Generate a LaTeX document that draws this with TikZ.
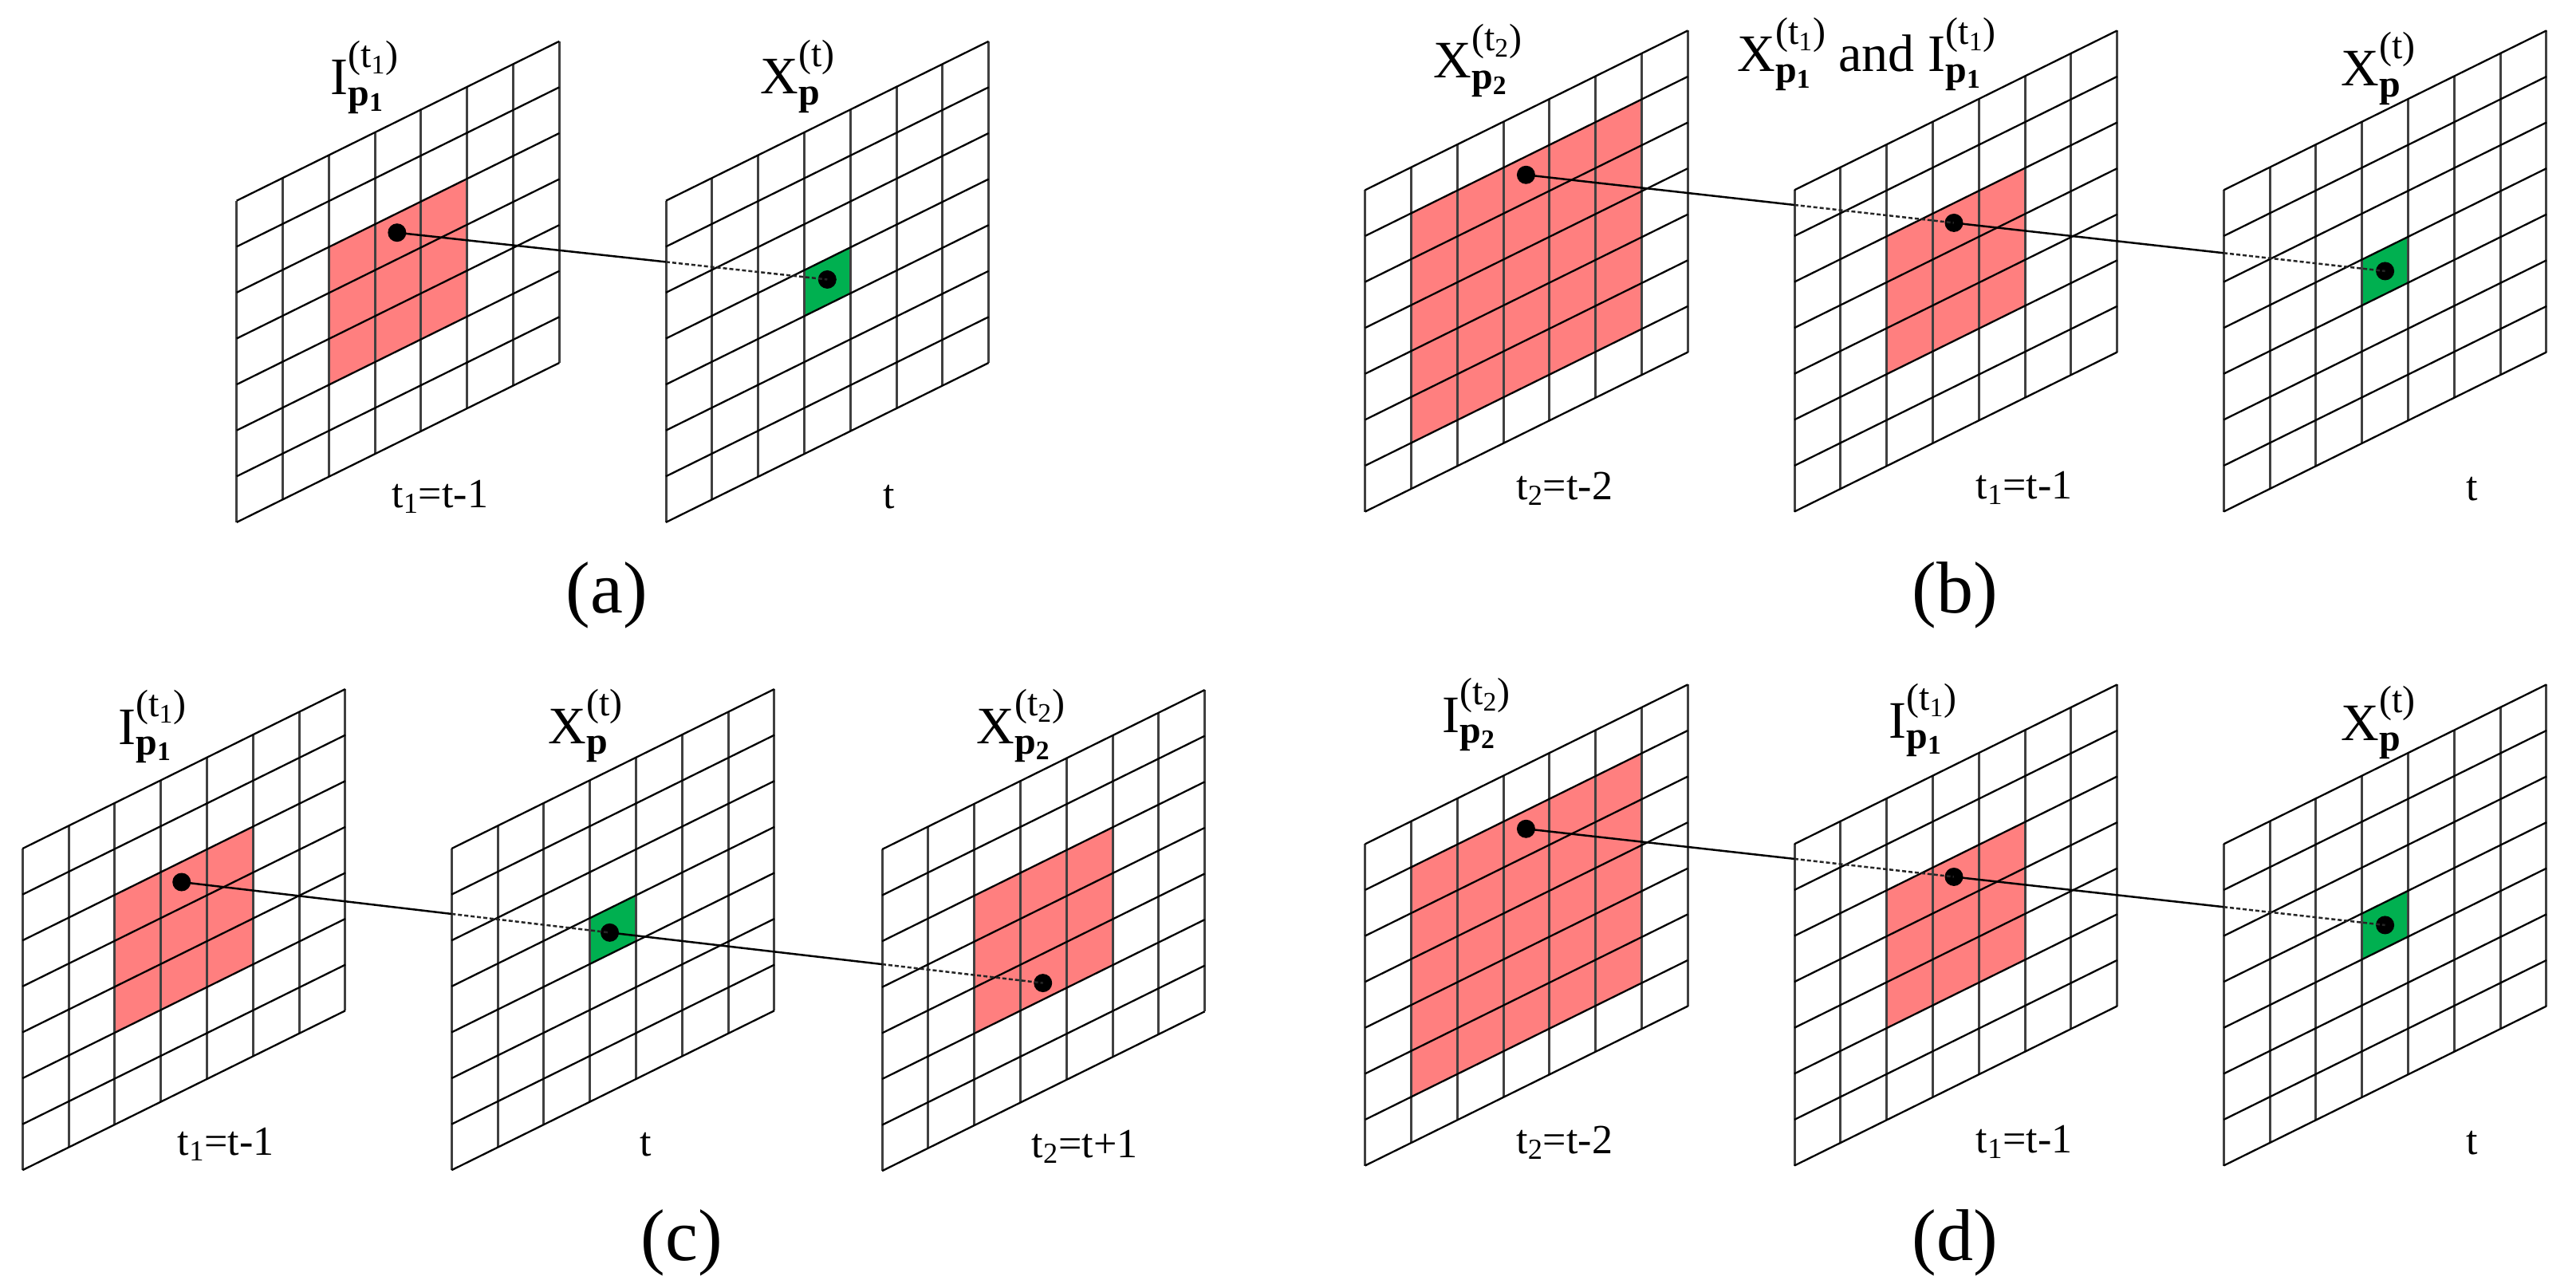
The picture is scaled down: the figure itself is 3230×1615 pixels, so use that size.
\documentclass[tikz,border=0pt]{standalone}
\usepackage{fontspec}
\setmainfont{Liberation Serif}
\definecolor{patchred}{RGB}{255,127,127}
\definecolor{cellgreen}{RGB}{0,176,80}
\tikzset{
  gridv/.style={draw=black!75, line width=1.5pt},
  gridh/.style={draw=black, line width=1.15pt},
  dotnode/.style={circle, fill=black, inner sep=0pt, minimum size=11.5pt},
  link/.style={line width=1.25pt, draw=black},
  hidden/.style={line width=1.25pt, draw=black!85, dash pattern=on 2.5pt off 1.5pt},
  toplab/.style={anchor=base west, inner sep=0pt, font=\fontsize{33}{33}\selectfont},
  botlab/.style={anchor=center, inner sep=0pt, font=\fontsize{26}{26}\selectfont},
  caplab/.style={anchor=center, inner sep=0pt, font=\fontsize{46}{46}\selectfont},
  gridsys/.style={x={(28.9pt,14.28pt)}, y={(0pt,-28.8pt)}}
}
\newcommand{\gridlines}{%
  \foreach \k in {0,...,7}{\draw[gridv] (\k,0) -- (\k,7);}%
  \foreach \k in {0,...,7}{\draw[gridh] (0,\k) -- (7,\k);}}
\newcommand{\redpatch}{\fill[patchred] (2,2) -- (5,2) -- (5,5) -- (2,5) -- cycle;}
\newcommand{\bigpatch}{\fill[patchred] (1,1) -- (6,1) -- (6,6) -- (1,6) -- cycle;}
\newcommand{\greencell}{\fill[cellgreen] (3,3) -- (4,3) -- (4,4) -- (3,4) -- cycle;}
\newcommand{\supsub}[3]{#1\rlap{\raisebox{-0.2em}{\fontsize{24}{24}\selectfont #2}}\raisebox{0.52em}{\fontsize{24}{24}\selectfont #3}}
\newcommand{\pp}[1]{\textbf{p}\textsubscript{\textbf{#1}}}
\begin{document}
\begin{tikzpicture}[x=0.5pt,y=-0.5pt]
\fill[white] (0,0) rectangle (3230,1615);
\useasboundingbox (0,0) rectangle (3230,1615);

% ---------------- panel (a) ----------------
\begin{scope}[shift={(296.7,251.7)}, gridsys]
  \redpatch \gridlines
  \coordinate (A1tl) at (0,0); \coordinate (A1bl) at (0,7);
  \node[dotnode] (A1dot) at (3.48,2.42) {};
\end{scope}
\begin{scope}[shift={(835,251.7)}, gridsys]
  \greencell \gridlines
  \coordinate (A2tl) at (0,0); \coordinate (A2bl) at (0,7);
  \node[dotnode] (A2dot) at (3.5,3.45) {};
\end{scope}
\coordinate (A12) at (intersection of A1dot.center--A2dot.center and A2tl--A2bl);
\draw[link] (A1dot.center) -- (A12);
\draw[hidden] (A12) -- (A2dot.center);
\node[toplab] (labA1) at (414,119) {\supsub{I}{\pp{1}}{(t\textsubscript{1})}};
\node[toplab] (labA2) at (953,118) {\supsub{X}{\textbf{p}}{(t)}};
\node[botlab] (tA1) at (551.7,623) {t\textsubscript{1}=t-1};
\node[botlab] (tA2) at (1115,623) {t};
\node[caplab] (capa) at (761,746) {(a)};

% ---------------- panel (b) ----------------
\begin{scope}[shift={(1711.7,238.3)}, gridsys]
  \bigpatch \gridlines
  \coordinate (B1tl) at (0,0); \coordinate (B1bl) at (0,7);
  \node[dotnode] (B1dot) at (3.49,1.4) {};
\end{scope}
\begin{scope}[shift={(2250,238.3)}, gridsys]
  \redpatch \gridlines
  \coordinate (B2tl) at (0,0); \coordinate (B2bl) at (0,7);
  \node[dotnode] (B2dot) at (3.46,2.43) {};
\end{scope}
\begin{scope}[shift={(2788.3,238.3)}, gridsys]
  \greencell \gridlines
  \coordinate (B3tl) at (0,0); \coordinate (B3bl) at (0,7);
  \node[dotnode] (B3dot) at (3.5,3.5) {};
\end{scope}
\coordinate (B12) at (intersection of B1dot.center--B2dot.center and B2tl--B2bl);
\coordinate (B23) at (intersection of B2dot.center--B3dot.center and B3tl--B3bl);
\draw[link] (B1dot.center) -- (B12);
\draw[hidden] (B12) -- (B2dot.center);
\draw[link] (B2dot.center) -- (B23);
\draw[hidden] (B23) -- (B3dot.center);
\node[toplab] (labB1) at (1797,98) {\supsub{X}{\pp{2}}{(t\textsubscript{2})}};
\node[toplab] (labB2) at (2178,90) {\supsub{X}{\pp{1}}{(t\textsubscript{1})} and \supsub{I}{\pp{1}}{(t\textsubscript{1})}};
\node[toplab] (labB3) at (2935,108) {\supsub{X}{\textbf{p}}{(t)}};
\node[botlab] (tB1) at (1961.7,613) {t\textsubscript{2}=t-2};
\node[botlab] (tB2) at (2538.3,612) {t\textsubscript{1}=t-1};
\node[botlab] (tB3) at (3100,613) {t};
\node[caplab] (capb) at (2451,746) {(b)};

% ---------------- panel (c) ----------------
\begin{scope}[shift={(28.3,1064)}, gridsys]
  \redpatch \gridlines
  \coordinate (C1tl) at (0,0); \coordinate (C1bl) at (0,7);
  \node[dotnode] (C1dot) at (3.45,2.44) {};
\end{scope}
\begin{scope}[shift={(566.3,1064)}, gridsys]
  \greencell \gridlines
  \coordinate (C2tl) at (0,0); \coordinate (C2bl) at (0,7);
  \node[dotnode] (C2dot) at (3.43,3.53) {};
\end{scope}
\begin{scope}[shift={(1106,1065)}, gridsys]
  \redpatch \gridlines
  \coordinate (C3tl) at (0,0); \coordinate (C3bl) at (0,7);
  \node[dotnode] (C3dot) at (3.49,4.64) {};
\end{scope}
\coordinate (C12) at (intersection of C1dot.center--C2dot.center and C2tl--C2bl);
\coordinate (C23) at (intersection of C2dot.center--C3dot.center and C3tl--C3bl);
\draw[link] (C1dot.center) -- (C12);
\draw[hidden] (C12) -- (C2dot.center);
\draw[link] (C2dot.center) -- (C23);
\draw[hidden] (C23) -- (C3dot.center);
\node[toplab] (labC1) at (148,933) {\supsub{I}{\pp{1}}{(t\textsubscript{1})}};
\node[toplab] (labC2) at (687,932) {\supsub{X}{\textbf{p}}{(t)}};
\node[toplab] (labC3) at (1224,932) {\supsub{X}{\pp{2}}{(t\textsubscript{2})}};
\node[botlab] (tC1) at (283.3,1435) {t\textsubscript{1}=t-1};
\node[botlab] (tC2) at (810,1435) {t};
\node[botlab] (tC3) at (1360,1438) {t\textsubscript{2}=t+1};
\node[caplab] (capc) at (855,1558) {(c)};

% ---------------- panel (d) ----------------
\begin{scope}[shift={(1711.7,1058.3)}, gridsys]
  \bigpatch \gridlines
  \coordinate (D1tl) at (0,0); \coordinate (D1bl) at (0,7);
  \node[dotnode] (D1dot) at (3.49,1.4) {};
\end{scope}
\begin{scope}[shift={(2250,1058.3)}, gridsys]
  \redpatch \gridlines
  \coordinate (D2tl) at (0,0); \coordinate (D2bl) at (0,7);
  \node[dotnode] (D2dot) at (3.46,2.43) {};
\end{scope}
\begin{scope}[shift={(2788.3,1058.3)}, gridsys]
  \greencell \gridlines
  \coordinate (D3tl) at (0,0); \coordinate (D3bl) at (0,7);
  \node[dotnode] (D3dot) at (3.5,3.5) {};
\end{scope}
\coordinate (D12) at (intersection of D1dot.center--D2dot.center and D2tl--D2bl);
\coordinate (D23) at (intersection of D2dot.center--D3dot.center and D3tl--D3bl);
\draw[link] (D1dot.center) -- (D12);
\draw[hidden] (D12) -- (D2dot.center);
\draw[link] (D2dot.center) -- (D23);
\draw[hidden] (D23) -- (D3dot.center);
\node[toplab] (labD1) at (1808,918) {\supsub{I}{\pp{2}}{(t\textsubscript{2})}};
\node[toplab] (labD2) at (2368,925) {\supsub{I}{\pp{1}}{(t\textsubscript{1})}};
\node[toplab] (labD3) at (2935,928) {\supsub{X}{\textbf{p}}{(t)}};
\node[botlab] (tD1) at (1961.7,1433) {t\textsubscript{2}=t-2};
\node[botlab] (tD2) at (2538.3,1432) {t\textsubscript{1}=t-1};
\node[botlab] (tD3) at (3100,1433) {t};
\node[caplab] (capd) at (2451,1558) {(d)};
\end{tikzpicture}
\end{document}
